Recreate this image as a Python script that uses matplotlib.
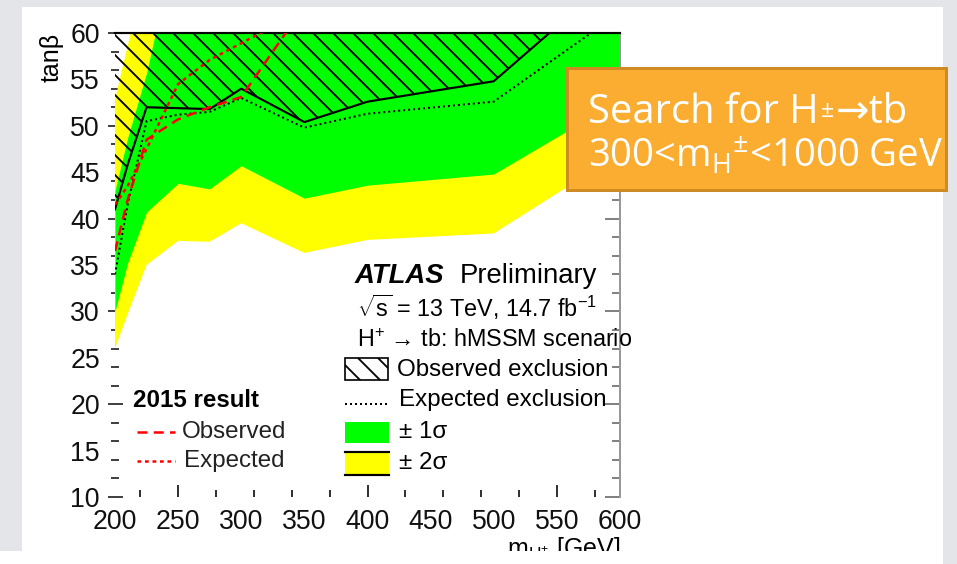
import numpy as np
import matplotlib.pyplot as plt
from matplotlib.patches import Rectangle
from matplotlib.lines import Line2D
from matplotlib.text import Annotation
from matplotlib.ticker import MultipleLocator, FixedLocator

plt.rcParams['font.family'] = ['Liberation Sans', 'DejaVu Sans']
plt.rcParams['mathtext.fontset'] = 'custom'
plt.rcParams['mathtext.rm'] = 'Liberation Sans'
plt.rcParams['mathtext.it'] = 'Liberation Sans:italic'
plt.rcParams['hatch.linewidth'] = 1.1

# charged Higgs mass points [GeV]
mass = [200, 210, 225, 250, 275, 300, 350, 400, 500, 600]
obs_2016 = [41.0, 45.8, 52.0, 51.9, 51.8, 54.0, 50.4, 52.6, 54.8, 66.6]
exp_2016 = [34.0, 41.5, 50.5, 51.2, 51.5, 53.0, 49.8, 51.3, 52.6, 62.2]
band_m2 = [26.0, 29.7, 35.0, 37.6, 37.5, 39.5, 36.3, 37.7, 38.4, 47.0]
band_m1 = [30.0, 35.2, 40.7, 43.8, 43.2, 45.7, 42.2, 43.6, 44.8, 52.8]
band_p1 = [43.0, 48.7, 55.7, 71.0, 72.0, 74.0, 70.0, 72.0, 74.0, 82.0]
band_p2 = [52.8, 58.6, 67.0, 80.0, 82.0, 84.0, 80.0, 82.0, 84.0, 92.0]

# 2015 result
mass_2015 = [200, 210, 225, 250, 275, 300, 350]
obs_2015 = [36.5, 42.0, 48.5, 50.7, 52.0, 53.1, 62.9]
exp_2015 = [41.5, 43.5, 47.5, 54.5, 57.1, 58.9, 62.5]

xticks = list(range(200, 601, 50))
yticks = list(range(10, 61, 5))

W, H, DPI = 957, 564, 120
fig = plt.figure(figsize=(W / DPI, H / DPI), dpi=DPI)
fig.patch.set_facecolor('#e3e5e9')


def px_rect(x0, y0, x1, y1, **kw):
    # rectangle given in pixel coordinates from the top-left corner
    r = Rectangle((x0 / W, 1 - y1 / H), (x1 - x0) / W, (y1 - y0) / H,
                  transform=fig.transFigure, **kw)
    fig.add_artist(r)
    return r


px_rect(22, 7, 943, 551, facecolor='white', edgecolor='none', zorder=-5)

ax = fig.add_axes([115 / W, 1 - 497 / H, 505 / W, 464 / H])
ax.set_xlim(200, 600)
ax.set_ylim(10, 60)
ax.patch.set_alpha(0)

ax.fill_between(mass, band_m2, band_p2, color='#ffff00', lw=0, zorder=1)
ax.fill_between(mass, band_m1, band_p1, color='#00ff00', lw=0, zorder=2)
obs = np.array(obs_2016)
ax.fill_between(mass, obs, 60, where=obs < 60, interpolate=True,
                facecolor='none', edgecolor='black', hatch='\\\\', lw=0, zorder=3)
ax.plot(mass, obs_2016, color='black', lw=1.3, zorder=4)
ax.plot(mass, exp_2016, color='black', lw=1.2, ls=(0, (1, 1.5)), zorder=4)
ax.plot(mass_2015, obs_2015, color='red', lw=1.5, ls=(0, (4, 2.5)), zorder=5)
ax.plot(mass_2015, exp_2015, color='red', lw=1.5, ls=(0, (1.5, 1.5)), zorder=5)

for side in ['left', 'bottom']:
    ax.spines[side].set_visible(False)
ax.spines['top'].set_linewidth(1.3)
ax.spines['right'].set_color('#999999')
ax.spines['right'].set_linewidth(1.2)

ax.set_xticks(xticks)
ax.set_yticks(yticks)
ax.tick_params(axis='both', length=0, labelsize=16, colors='#111111')
ax.tick_params(axis='x', pad=7)
ax.tick_params(axis='y', pad=9)

# tick marks drawn separately from the labels
sx = ax.secondary_xaxis('bottom')
sx.set_xticks([250, 400, 550])
sx.xaxis.set_minor_locator(FixedLocator([220, 280, 310, 340, 370, 430, 460, 490, 520, 580]))
sx.tick_params(which='major', direction='in', length=7, width=1.1, color='#222222', labelbottom=False)
sx.tick_params(which='minor', direction='in', length=4, width=1.1, color='#222222')
sx.spines['bottom'].set_visible(False)

sy = ax.secondary_yaxis('left')
sy.set_yticks(list(range(10, 61, 10)))
sy.yaxis.set_minor_locator(MultipleLocator(2))
sy.tick_params(which='major', direction='inout', length=9, width=1.1, color='#333333', labelleft=False)
sy.tick_params(which='minor', direction='inout', length=5, width=1.1, color='#333333')
sy.spines['left'].set_visible(False)

sr = ax.secondary_yaxis('right')
sr.set_yticks(list(range(10, 61, 10)))
sr.yaxis.set_minor_locator(MultipleLocator(2))
sr.tick_params(which='major', direction='in', length=9, width=1.1, color='#777777', labelright=False)
sr.tick_params(which='minor', direction='in', length=5, width=1.1, color='#777777')
sr.spines['right'].set_visible(False)

ax.set_ylabel('tanβ', loc='top', fontsize=15, labelpad=4)
ax.set_xlabel(r'm$_{\mathrm{H}^{+}}$ [GeV]', loc='right', fontsize=15, labelpad=0)

# ATLAS legend block
tr = ax.transAxes
ax.text(0.475, 0.461, 'ATLAS', transform=tr, fontsize=16.5, fontweight='bold',
        fontstyle='italic', va='baseline')
ax.text(0.683, 0.461, 'Preliminary', transform=tr, fontsize=16.5, va='baseline')
ax.text(0.479, 0.388, r'$\sqrt{\mathrm{s}}$ = 13 TeV, 14.7 fb$^{-1}$', transform=tr,
        fontsize=14, va='baseline')
ax.text(0.479, 0.323, r'H$^{+}$ → tb: hMSSM scenario', transform=tr,
        fontsize=14, va='baseline')

ax.add_patch(Rectangle((0.455, 0.252), 0.086, 0.048, transform=tr, facecolor='white',
                       edgecolor='black', hatch='\\\\', lw=1.0, zorder=6))
ax.text(0.558, 0.274, 'Observed exclusion', transform=tr, fontsize=14.5, va='center')
ax.add_line(Line2D([0.455, 0.541], [0.200, 0.200], transform=tr, color='black',
                   lw=1.2, ls=(0, (1, 1.5)), zorder=6))
ax.text(0.562, 0.209, 'Expected exclusion', transform=tr, fontsize=14.5, va='center')
ax.add_patch(Rectangle((0.455, 0.116), 0.088, 0.046, transform=tr, facecolor='#00ff00',
                       edgecolor='none', zorder=6))
ax.text(0.562, 0.140, '± 1σ', transform=tr, fontsize=14.5, va='center')
ax.add_patch(Rectangle((0.455, 0.047), 0.088, 0.050, transform=tr, facecolor='#ffff00',
                       edgecolor='none', zorder=6))
for yy in [0.047, 0.097]:
    ax.add_line(Line2D([0.455, 0.543], [yy, yy], transform=tr, color='black', lw=1.3, zorder=7))
ax.text(0.562, 0.073, '± 2σ', transform=tr, fontsize=14.5, va='center')

# 2015 legend block
ax.text(0.036, 0.207, '2015 result', transform=tr, fontsize=14.5, fontweight='bold', va='center')
ax.add_line(Line2D([0.044, 0.119], [0.140, 0.140], transform=tr, color='red',
                   lw=1.5, ls=(0, (4, 2.5)), zorder=6))
ax.text(0.133, 0.140, 'Observed', transform=tr, fontsize=14.5, va='center', color='#222222')
ax.add_line(Line2D([0.044, 0.119], [0.078, 0.078], transform=tr, color='red',
                   lw=1.5, ls=(0, (1.5, 1.5)), zorder=6))
ax.text(0.137, 0.078, 'Expected', transform=tr, fontsize=14.5, va='center', color='#222222')

# orange caption box
px_rect(567, 68, 946, 190, facecolor='#faad30', edgecolor='#d08a22', lw=1.8, zorder=20)
box_font = ['Open Sans', 'DejaVu Sans']
t1 = fig.text(588 / W, 1 - 123 / H, 'Search for H', color='white', fontsize=24,
              family=box_font, va='baseline', zorder=21)
t2 = Annotation('±', xy=(1, 1), xycoords=t1, xytext=(1, -4), textcoords='offset points',
                color='white', fontsize=14, family=box_font, va='top', zorder=21)
fig.add_artist(t2)
t3 = Annotation('→tb', xy=(1, 0), xycoords=(t2, t1), xytext=(1, 0), textcoords='offset points',
                color='white', fontsize=24, family=box_font, va='bottom', zorder=21)
fig.add_artist(t3)
fig.text(588 / W, 1 - 168 / H, r'300<m$_{\mathregular{H}}$$^{\mathregular{±}}$<1000 GeV',
         color='white', fontsize=23, family=box_font, va='baseline', zorder=21)

# bottom strip of the page
px_rect(0, 551, 943, 564, facecolor='white', edgecolor='none', zorder=30)

fig.savefig('out.png', dpi=DPI, facecolor=fig.get_facecolor())
